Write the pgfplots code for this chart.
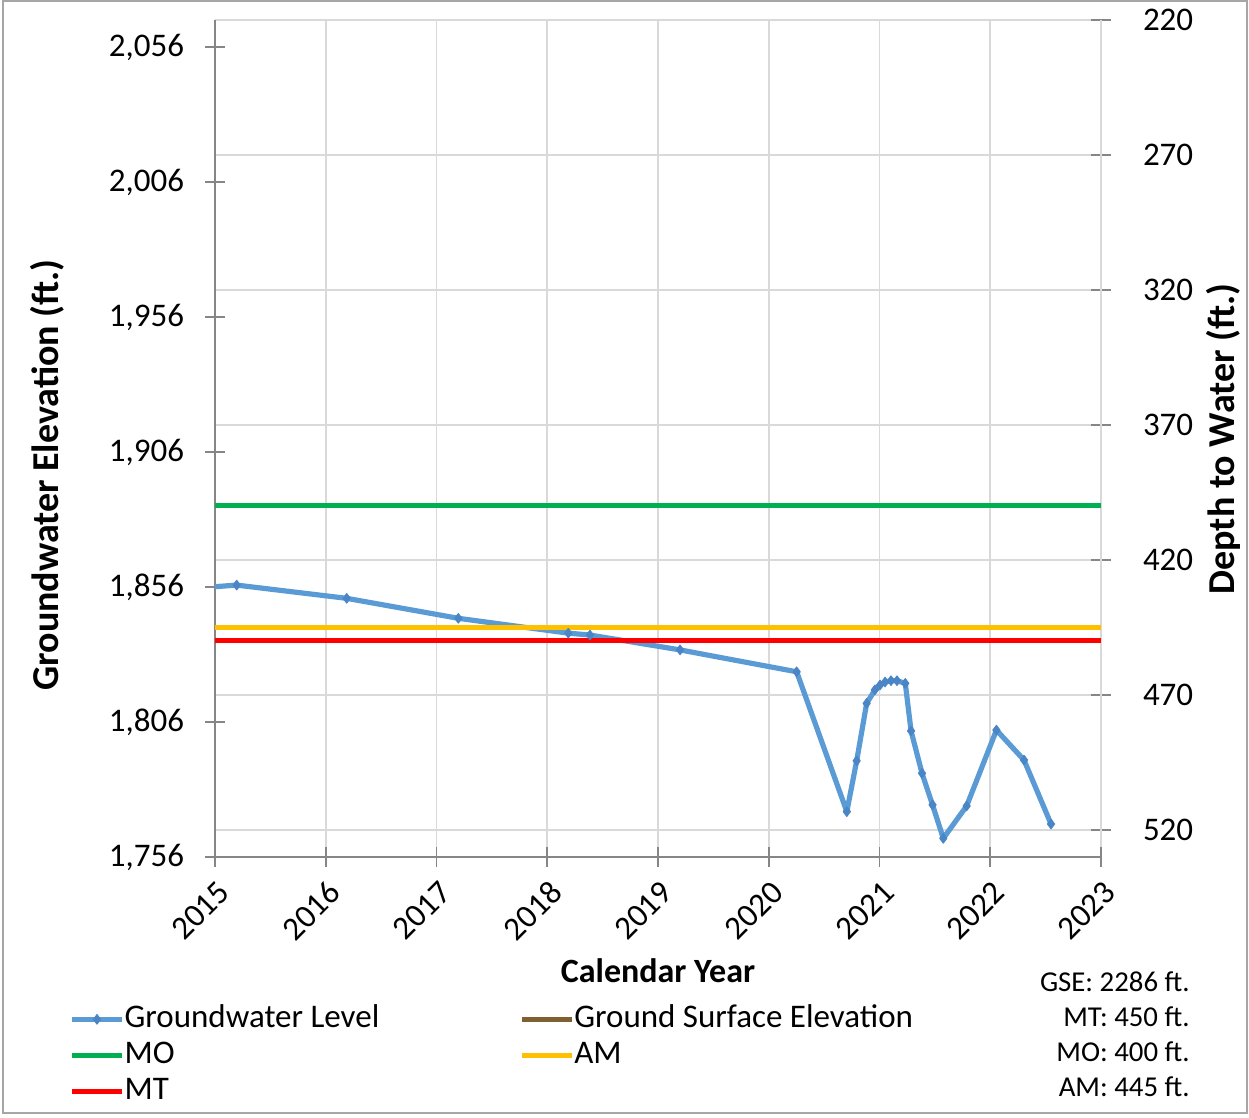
\documentclass[border=0pt]{standalone}
\usepackage{pgfplots}
\pgfplotsset{compat=1.18}
\usepackage{fontspec}
\setmainfont{Carlito}
\definecolor{gwblue}{HTML}{5B9BD5}
\definecolor{gwmark}{HTML}{4A86C5}
\definecolor{mogreen}{HTML}{00B050}
\definecolor{amyellow}{HTML}{FFC000}
\definecolor{mtred}{HTML}{FF0000}
\definecolor{gsebrown}{HTML}{806030}
\definecolor{axgray}{HTML}{868686}
\definecolor{gridgray}{HTML}{D9D9D9}

\pgfplotstableread{
year elev
2015.196 1856.7
2016.189 1851.8
2017.197 1844.4
2018.190 1838.9
2018.386 1838.2
2019.199 1832.7
2020.252 1824.6
2020.705 1772.8
2020.794 1791.6
2020.884 1812.9
2020.959 1817.9
2021.005 1819.7
2021.050 1820.8
2021.104 1821.3
2021.158 1821.3
2021.233 1820.3
2021.285 1802.7
2021.384 1787.0
2021.479 1775.3
2021.576 1762.9
2021.787 1774.9
2022.056 1803.0
2022.305 1791.9
2022.549 1768.2
}\gwdata

\begin{document}
\begin{tikzpicture}
\useasboundingbox (0,0) rectangle (624.5pt,559pt);
\draw[line width=0.8pt, color=black!35] (1.5pt,2.5pt) rectangle (623.5pt,558.6pt);

% right axis: depth to water
\begin{axis}[
  at={(107.5pt,130.5pt)}, anchor=south west,
  scale only axis, width=443pt, height=418.5pt,
  xmin=2015, xmax=2023,
  ymin=220, ymax=530, y dir=reverse,
  axis x line=none,
  axis y line*=right,
  ytick={220,270,320,370,420,470,520},
  ymajorgrids,
  grid style={gridgray, line width=0.9pt},
  axis line style={-, axgray, line width=0.9pt},
  tick style={axgray, line width=0.9pt},
  tick align=center, major tick length=10pt,
  ylabel={\bfseries Depth to Water (ft.)},
  ylabel style={at={(rel axis cs:1.1377,0.4994)}, anchor=center, font=\fontsize{19}{22}\selectfont},
  yticklabel style={xshift=12.5pt, font=\fontsize{16.5}{19}\selectfont},
  /pgf/number format/assume math mode=true,
]
\end{axis}

% left axis: groundwater elevation
\begin{axis}[
  at={(107.5pt,130.5pt)}, anchor=south west,
  scale only axis, width=443pt, height=418.5pt,
  xmin=2015, xmax=2023,
  ymin=1756, ymax=2066,
  axis x line*=bottom, axis y line*=left,
  axis line style={-, axgray, line width=0.9pt},
  tick style={axgray, line width=0.9pt},
  tick align=center, major tick length=10pt,
  xtick={2015,2016,2017,2018,2019,2020,2021,2022,2023},
  xticklabels={2015,2016,2017,2018,2019,2020,2021,2022,2023},
  xmajorgrids,
  grid style={gridgray, line width=0.9pt},
  ytick={1756,1806,1856,1906,1956,2006,2056},
  yticklabels={{1,756},{1,806},{1,856},{1,906},{1,956},{2,006},{2,056}},
  xticklabel style={xshift=7pt, yshift=-7.5pt, rotate=45, anchor=east, font=\fontsize{16.5}{19}\selectfont},
  yticklabel style={xshift=-7pt, font=\fontsize{16.5}{19}\selectfont},
  xlabel={\bfseries Calendar Year},
  xlabel style={at={(rel axis cs:0.5,-0.1362)}, anchor=center, font=\fontsize{17}{20}\selectfont},
  ylabel={\bfseries Groundwater Elevation (ft.)},
  ylabel style={at={(rel axis cs:-0.1896,0.4564)}, anchor=center, font=\fontsize{19}{22}\selectfont},
  legend columns=2,
  legend cell align=left,
  legend style={at={(axis description cs:-0.1648,-0.172)}, anchor=north west,
    draw=none, fill=none, inner sep=0pt, font=\fontsize{16.5}{19}\selectfont,
    nodes={inner sep=0.5pt, text height=12.5pt, text depth=4.5pt},
    /tikz/column 1/.style={column sep=-0.5pt},
    /tikz/column 3/.style={column sep=-0.5pt},
    /tikz/column 2/.style={column sep=69.5pt}, row sep=0pt},
  legend image code/.code={\draw[mark repeat=2,mark phase=2,#1] plot coordinates {(0pt,0pt) (12.5pt,0pt) (25pt,0pt)};},
  /pgf/number format/assume math mode=true,
]
\addplot[gwblue, line width=2.6pt, line join=round, mark=diamond*, mark size=2.4pt,
  mark options={gwmark, line width=0.5pt}] table[x=year,y=elev] {\gwdata};
\addlegendentry{Groundwater Level}
\addplot[gsebrown, line width=2.5pt] coordinates {(2015,2286) (2023,2286)};
\addlegendentry{Ground Surface Elevation}
\addplot[mogreen, line width=2.5pt] coordinates {(2015,1886) (2023,1886)};
\addlegendentry{MO}
\addplot[amyellow, line width=2.5pt] coordinates {(2015,1841) (2023,1841)};
\addlegendentry{AM}
\addplot[mtred, line width=2.5pt] coordinates {(2015,1836) (2023,1836)};
\addlegendentry{MT}
\addplot[gwblue, line width=2.6pt, forget plot] coordinates {(2014.8,1855.5) (2015.196,1856.7)};
\end{axis}

\begin{scope}[every node/.style={anchor=east, inner sep=0pt, font=\fontsize{14.4}{17}\selectfont}]
\node at (595pt,68pt) {GSE: 2286 ft.};
\node at (595pt,50.5pt) {MT: 450 ft.};
\node at (595pt,33pt) {MO: 400 ft.};
\node at (595pt,15.5pt) {AM: 445 ft.};
\end{scope}
\end{tikzpicture}
\end{document}
